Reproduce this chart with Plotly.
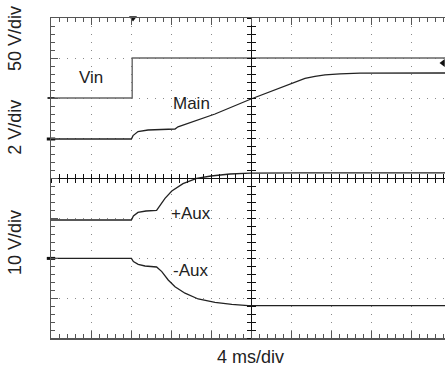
import plotly.graph_objects as go

# oscilloscope screen, values in divisions (x: 4 ms/div, y: 0 = bottom graticule line)
vin_x = [0, 2.03, 2.03, 9.85]
vin_y = [6.0, 6.0, 7.0, 7.0]

main_x = [0, 2.01, 2.05, 2.175, 2.425, 3.1, 3.175, 4.1, 5.0, 6.1, 6.35, 6.6, 6.85, 7.225, 7.725, 9.85]
main_y = [4.975, 4.975, 5.06, 5.16, 5.2, 5.225, 5.28, 5.6, 5.975, 6.4, 6.49, 6.54, 6.58, 6.605, 6.62, 6.625]

paux_x = [0, 2.01, 2.06, 2.175, 2.375, 2.64, 2.85, 3.02, 3.3, 3.64, 4.0, 4.475, 4.975, 6.225, 9.85]
paux_y = [2.95, 2.95, 3.05, 3.14, 3.175, 3.19, 3.49, 3.675, 3.86, 3.99, 4.05, 4.1, 4.12, 4.13, 4.13]

naux_x = [0, 2.01, 2.06, 2.18, 2.35, 2.64, 2.77, 2.93, 3.1, 3.35, 3.68, 4.1, 4.52, 4.93, 6.225, 9.85]
naux_y = [1.99, 1.99, 1.91, 1.84, 1.8, 1.775, 1.66, 1.45, 1.28, 1.12, 0.975, 0.89, 0.84, 0.81, 0.81, 0.81]

trig_x = 2.05
vin_ground = 6.0
ground_levels = [4.975, 1.99]
ref_x = 9.8
ref_level = 6.875

x_range = [0, 9.85]
y_range = [0, 8]

fig = go.Figure()
fig.add_trace(go.Scatter(x=vin_x, y=vin_y, mode="lines", line=dict(color="#666", width=1.4)))
fig.add_trace(go.Scatter(x=main_x, y=main_y, mode="lines", line=dict(color="#222", width=1.3)))
fig.add_trace(go.Scatter(x=paux_x, y=paux_y, mode="lines", line=dict(color="#222", width=1.3)))
fig.add_trace(go.Scatter(x=naux_x, y=naux_y, mode="lines", line=dict(color="#222", width=1.3)))

# channel / trigger markers
fig.add_trace(go.Scatter(x=[trig_x], y=[y_range[1]], mode="markers", cliponaxis=False,
                         marker=dict(symbol="triangle-down", size=7, color="#111")))
fig.add_trace(go.Scatter(x=[0] * len(ground_levels), y=ground_levels, mode="markers", cliponaxis=False,
                         marker=dict(symbol="line-ew-open", size=6, color="#111", line=dict(width=3, color="#111"))))
fig.add_trace(go.Scatter(x=[0], y=[vin_ground], mode="markers", cliponaxis=False,
                         marker=dict(symbol="line-ew-open", size=5, color="#333", line=dict(width=2, color="#333"))))
fig.add_trace(go.Scatter(x=[ref_x], y=[ref_level], mode="markers", cliponaxis=False,
                         marker=dict(symbol="triangle-left", size=7, color="#111")))

# invisible traces to hold the centre graticule axes
fig.add_trace(go.Scatter(x=[], y=[], xaxis="x2", yaxis="y2"))
fig.add_trace(go.Scatter(x=[], y=[], xaxis="x3", yaxis="y3"))

frame = dict(
    showticklabels=False, showgrid=True, gridcolor="#8a8a8a", griddash="1px,7px", gridwidth=1,
    zeroline=False, showline=True, linecolor="#555", linewidth=1.5,
    ticks="inside", ticklen=7, tickwidth=1, tickcolor="#555", dtick=1, tick0=0,
    minor=dict(ticks="inside", dtick=0.2, ticklen=4, tickcolor="#555", showgrid=False),
    fixedrange=True,
)
center = dict(
    showticklabels=False, showgrid=False, zeroline=False, showline=True,
    linecolor="#111", linewidth=1.3, ticklen=4, tickwidth=1, tickcolor="#111",
    dtick=0.2, tick0=0, fixedrange=True,
)

fig.update_layout(
    width=445, height=370,
    margin=dict(l=51, r=0, t=18, b=32),
    plot_bgcolor="white", paper_bgcolor="white",
    showlegend=False,
    hovermode=False,
    font=dict(family="Liberation Sans, Arial, sans-serif", size=17, color="#222"),
    xaxis=dict(range=x_range, mirror="allticks", **frame),
    yaxis=dict(range=y_range, **frame),
    xaxis2=dict(overlaying="x", anchor="free", position=0.5, range=x_range, ticks="outside", **center),
    xaxis3=dict(overlaying="x", anchor="free", position=0.5, range=x_range, ticks="inside", **center),
    yaxis2=dict(overlaying="y", anchor="free", position=5 / 9.85, range=y_range, ticks="outside", **center),
    yaxis3=dict(overlaying="y", anchor="free", position=5 / 9.85, range=y_range, ticks="inside", **center),
)

labels = [("Vin", 1.0, 6.525), ("Main", 3.5, 5.875), ("+Aux", 3.5, 3.125), ("-Aux", 3.475, 1.7)]
for text, x, y in labels:
    fig.add_annotation(text=text, x=x, y=y, xref="x", yref="y", showarrow=False,
                       xanchor="center", yanchor="middle")

for text, y in [("50 V/div", 0.9375), ("2 V/div", 0.66), ("10 V/div", 0.3)]:
    fig.add_annotation(text=text, x=-0.0914, y=y, xref="paper", yref="paper",
                       textangle=-90, showarrow=False, xanchor="center", yanchor="middle",
                       font=dict(size=18))

fig.add_annotation(text="4 ms/div", x=0.5076, y=-0.059, xref="paper", yref="paper",
                   showarrow=False, xanchor="center", yanchor="middle", font=dict(size=18))

fig.write_html("out.html", config={"displayModeBar": False, "staticPlot": True},
               post_script="document.body.style.margin = '0';")
